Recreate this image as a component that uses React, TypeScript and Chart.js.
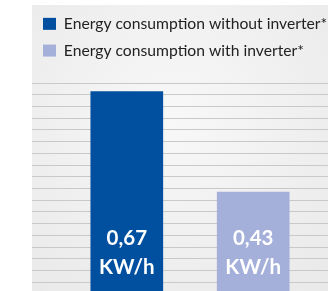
import React, { useEffect, useRef } from "react";
import { Chart, registerables } from "chart.js";

Chart.register(...registerables);

const categories = [""];
const seriesNames = [
  "Energy consumption without inverter*",
  "Energy consumption with inverter*",
];
const withoutInverter = [0.67];
const withInverter = [0.43];
const unitLabel = "KW/h";
const colors = ["#0150a0", "#a4b0da"];

const fmt = (v: number) => v.toFixed(2).replace(".", ",");

export default function App() {
  const ref = useRef<HTMLCanvasElement | null>(null);

  useEffect(() => {
    document.documentElement.style.overflow = "hidden";
    document.body.style.overflow = "hidden";
    document.body.style.margin = "0";
    const canvas = ref.current;
    if (!canvas) return;

    const legendHeightPlugin = {
      id: "legendHeight",
      beforeInit(chart: any) {
        const orig = chart.legend.fit;
        chart.legend.fit = function () {
          orig.call(this);
          this.height = 78;
        };
      },
    };

    const valueLabels = {
      id: "valueLabels",
      afterDatasetsDraw(chart: any) {
        const ctx = chart.ctx;
        const bottom = chart.chartArea.bottom;
        ctx.save();
        ctx.fillStyle = "#ffffff";
        ctx.textAlign = "center";
        ctx.textBaseline = "middle";
        ctx.font = "bold 20.5px Lato";
        chart.data.datasets.forEach((ds: any, i: number) => {
          const meta = chart.getDatasetMeta(i);
          const el = meta.data[0];
          if (!el) return;
          ctx.fillText(fmt(ds.data[0]), el.x, bottom - 56);
          ctx.fillText(unitLabel, el.x, bottom - 27);
        });
        ctx.restore();
      },
    };

    const chart = new Chart(canvas, {
      type: "bar",
      data: {
        labels: categories,
        datasets: [
          {
            label: seriesNames[0],
            data: withoutInverter,
            backgroundColor: colors[0],
            barPercentage: 0.575,
            categoryPercentage: 0.8,
          },
          {
            label: seriesNames[1],
            data: withInverter,
            backgroundColor: colors[1],
            barPercentage: 0.575,
            categoryPercentage: 0.8,
          },
        ],
      },
      options: {
        animation: false,
        responsive: false,
        maintainAspectRatio: false,
        layout: { padding: 0 },
        plugins: {
          tooltip: { enabled: false },
          legend: {
            display: true,
            position: "top",
            align: "start",
            labels: {
              boxWidth: 13,
              boxHeight: 12,
              padding: 11,
              color: "#222222",
              font: { family: "Lato", size: 15.7 },
            },
          },
        },
        scales: {
          x: { display: false },
          y: {
            display: true,
            min: 0.186,
            max: 0.69,
            border: { display: false },
            ticks: { display: false, stepSize: 0.028 },
            grid: { color: "#c9c9c9", lineWidth: 1, drawTicks: false },
          },
        },
      },
      plugins: [legendHeightPlugin, valueLabels],
    });
    return () => chart.destroy();
  }, []);

  return (
    <div
      style={{
        position: "absolute",
        left: 32,
        top: 5,
        width: 316,
        height: 289,
        background:
          "radial-gradient(ellipse at 45% 40%, #f8f8f8 0%, #eeeeee 60%, #e8e8e8 100%)",
      }}
    >
      <canvas ref={ref} width={316} height={289} style={{ display: "block" }} />
    </div>
  );
}
